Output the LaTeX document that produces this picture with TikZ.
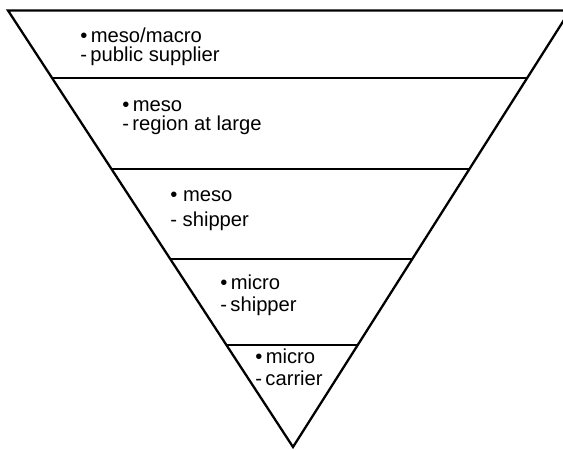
\documentclass[tikz,border=0pt]{standalone}
\usepackage{fontspec}
\setmainfont{Liberation Sans}
\usetikzlibrary{calc}

\tikzset{
  bandtext/.style={anchor=base west, align=left, inner sep=0pt, font=\fontsize{11.5}{11}\selectfont},
  funnel/.style={line width=1.3pt}
}

\begin{document}
\begin{tikzpicture}[x=0.02cm, y=-0.02cm]
  \useasboundingbox (0,0) rectangle (563,449);
  \clip (0,0) rectangle (563,449);
  % outline of the funnel
  \coordinate (tl) at (8,10.5);
  \coordinate (tr) at (570,10.5);
  \coordinate (apex) at (293,447);
  \draw[funnel] (tr) -- (tl) -- (apex) -- cycle;
  % levels
  \foreach \t in {0.155,0.363,0.569,0.766}
    \draw[funnel] ($(tl)!\t!(apex)$) -- ($(tr)!\t!(apex)$);

  \node[bandtext] (supplier) at (80,62) {\textbullet\,meso/macro\\-\,public supplier};
  \node[bandtext] (region) at (122,131) {\textbullet\,meso\\-\,region at large};
  \node[bandtext] (mesoship) at (170,226) {\textbullet\ meso\\[3.2pt]-\ shipper};
  \node[bandtext] (microship) at (220,311) {\textbullet\,micro\\[1.5pt]-\,shipper};
  \node[bandtext] (carrier) at (255,385) {\textbullet\,micro\\[1pt]-\,carrier};
\end{tikzpicture}
\end{document}
